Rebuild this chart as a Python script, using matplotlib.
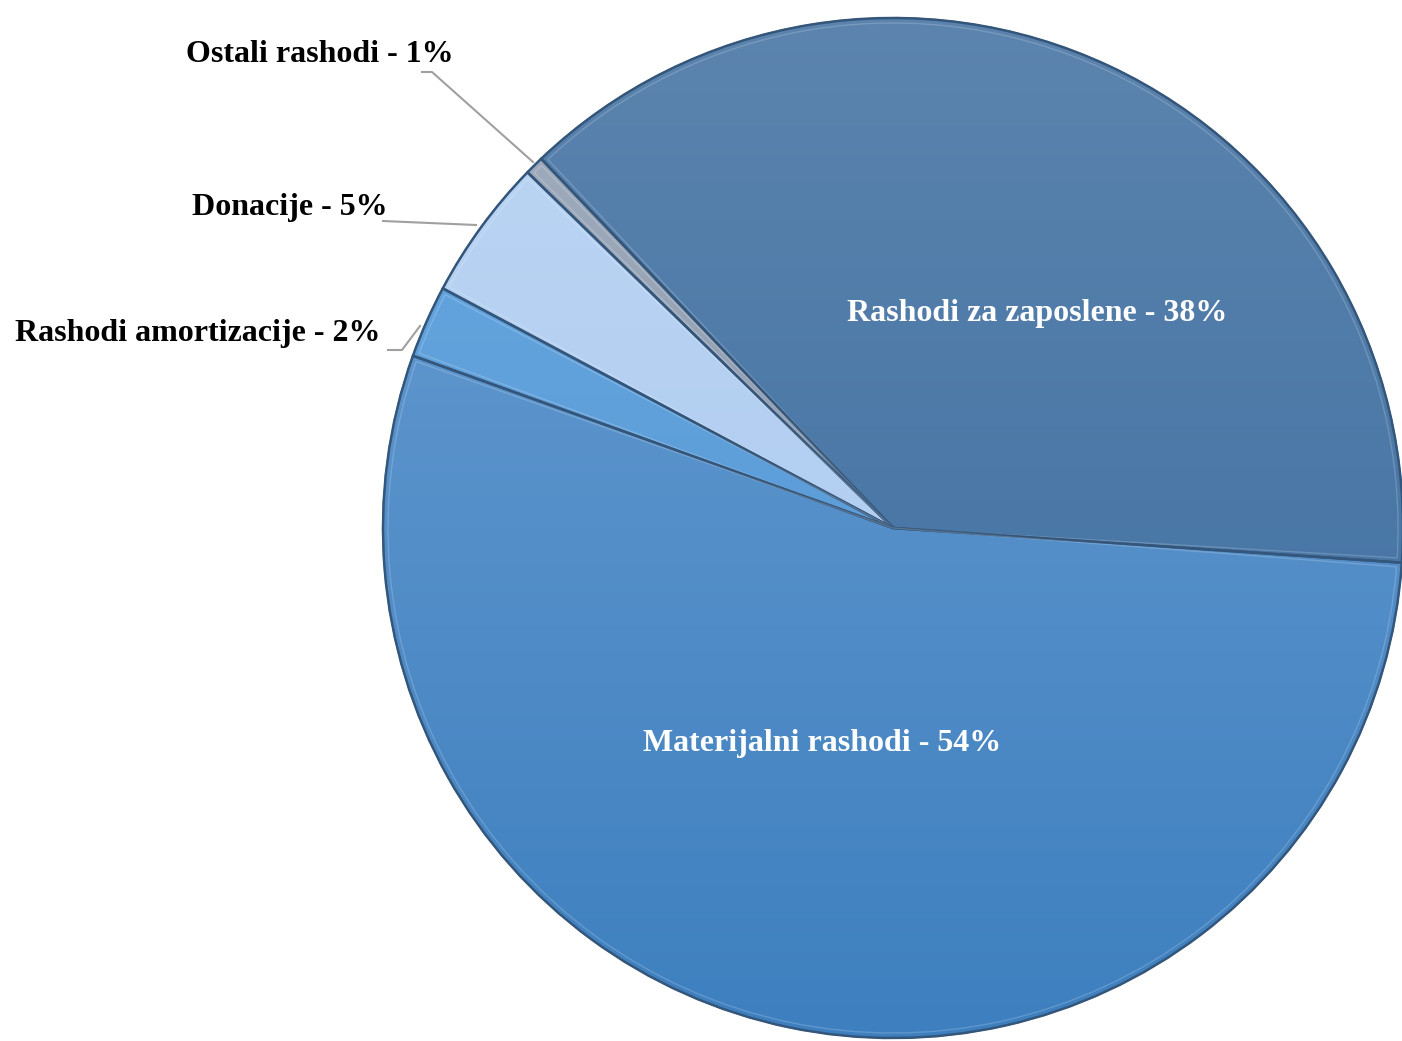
import numpy as np
import matplotlib
matplotlib.use("Agg")
import matplotlib.pyplot as plt
from matplotlib.patches import Wedge
from matplotlib.colors import LinearSegmentedColormap

# ---- data ----
categories = ["Rashodi za zaposlene", "Ostali rashodi", "Donacije",
              "Rashodi amortizacije", "Materijalni rashodi"]
shares = [38.2, 0.6, 4.5, 2.3, 54.4]          # slice sizes
pct_labels = ["38%", "1%", "5%", "2%", "54%"]  # printed labels
labels = [f"{c} - {p}" for c, p in zip(categories, pct_labels)]

top_colors = ["#5c84ae", "#a3afbf", "#bcd5f3", "#6aa9e0", "#6c9fd3"]
bot_colors = ["#386b9f", "#7d8ca3", "#a9c8ef", "#4f93d3", "#3d7fbf"]

W, H = 1402, 1041
fig = plt.figure(figsize=(W / 100, H / 100), dpi=100)
ax = fig.add_axes([0, 0, 1, 1])

cx, cy, R = 893, H - 528, 510
explode = [0.012, 0, 0, 0, 0.008]

wedges, _ = ax.pie(shares, startangle=-3.9, counterclock=True, center=(cx, cy),
                   radius=R, explode=explode, colors=top_colors,
                   wedgeprops=dict(edgecolor="#4d6f92", linewidth=1.2),
                   frame=True)
ax.set_xlim(0, W)
ax.set_ylim(0, H)
ax.set_aspect("equal")
ax.axis("off")

# gradient fill clipped to each wedge
yy = np.linspace(0, 1, 256).reshape(-1, 1)
for w, tc, bc in zip(wedges, top_colors, bot_colors):
    cmap = LinearSegmentedColormap.from_list("g", [bc, tc])
    im = ax.imshow(np.tile(yy, (1, 2)), cmap=cmap, origin="lower",
                   extent=[cx - R - 10, cx + R + 10, cy - R - 10, cy + R + 10],
                   aspect="auto", zorder=w.get_zorder() + 0.1)
    im.set_clip_path(w)
    e = Wedge(w.center, w.r, w.theta1, w.theta2, facecolor="none",
              edgecolor="#34567a", linewidth=1.8, zorder=w.get_zorder() + 0.2)
    ax.add_patch(e)
    e2 = Wedge(w.center, w.r - 5, w.theta1 + 0.5, w.theta2 - 0.5,
               facecolor="none", edgecolor="white", linewidth=1.0, alpha=0.18,
               zorder=w.get_zorder() + 0.2)
    ax.add_patch(e2)

ax.set_xlim(0, W)
ax.set_ylim(0, H)

font = dict(family="Liberation Serif", fontweight="bold", fontsize=23)

def P(x, y):
    return (x, H - y)

# inside labels
ax.text(*P(1037, 313), labels[0], color="white", ha="center", va="center", zorder=10, **font)
ax.text(*P(822, 743), labels[4], color="white", ha="center", va="center", zorder=10, **font)

# outside labels
ax.text(*P(320, 55), labels[1], color="black", ha="center", va="center", zorder=10, **font)
ax.text(*P(290, 208), labels[2], color="black", ha="center", va="center", zorder=10, **font)
ax.text(*P(198, 333), labels[3], color="black", ha="center", va="center", zorder=10, **font)

lc = "#a0a0a0"
for pts in [[(422, 72), (432, 72), (533, 162)],
            [(383, 221), (476, 225)],
            [(388, 350), (402, 350), (420, 326)]]:
    xs = [p[0] for p in pts]
    ys = [H - p[1] for p in pts]
    ax.plot(xs, ys, color=lc, lw=1.5, zorder=9)

fig.savefig("out.png", dpi=100)
